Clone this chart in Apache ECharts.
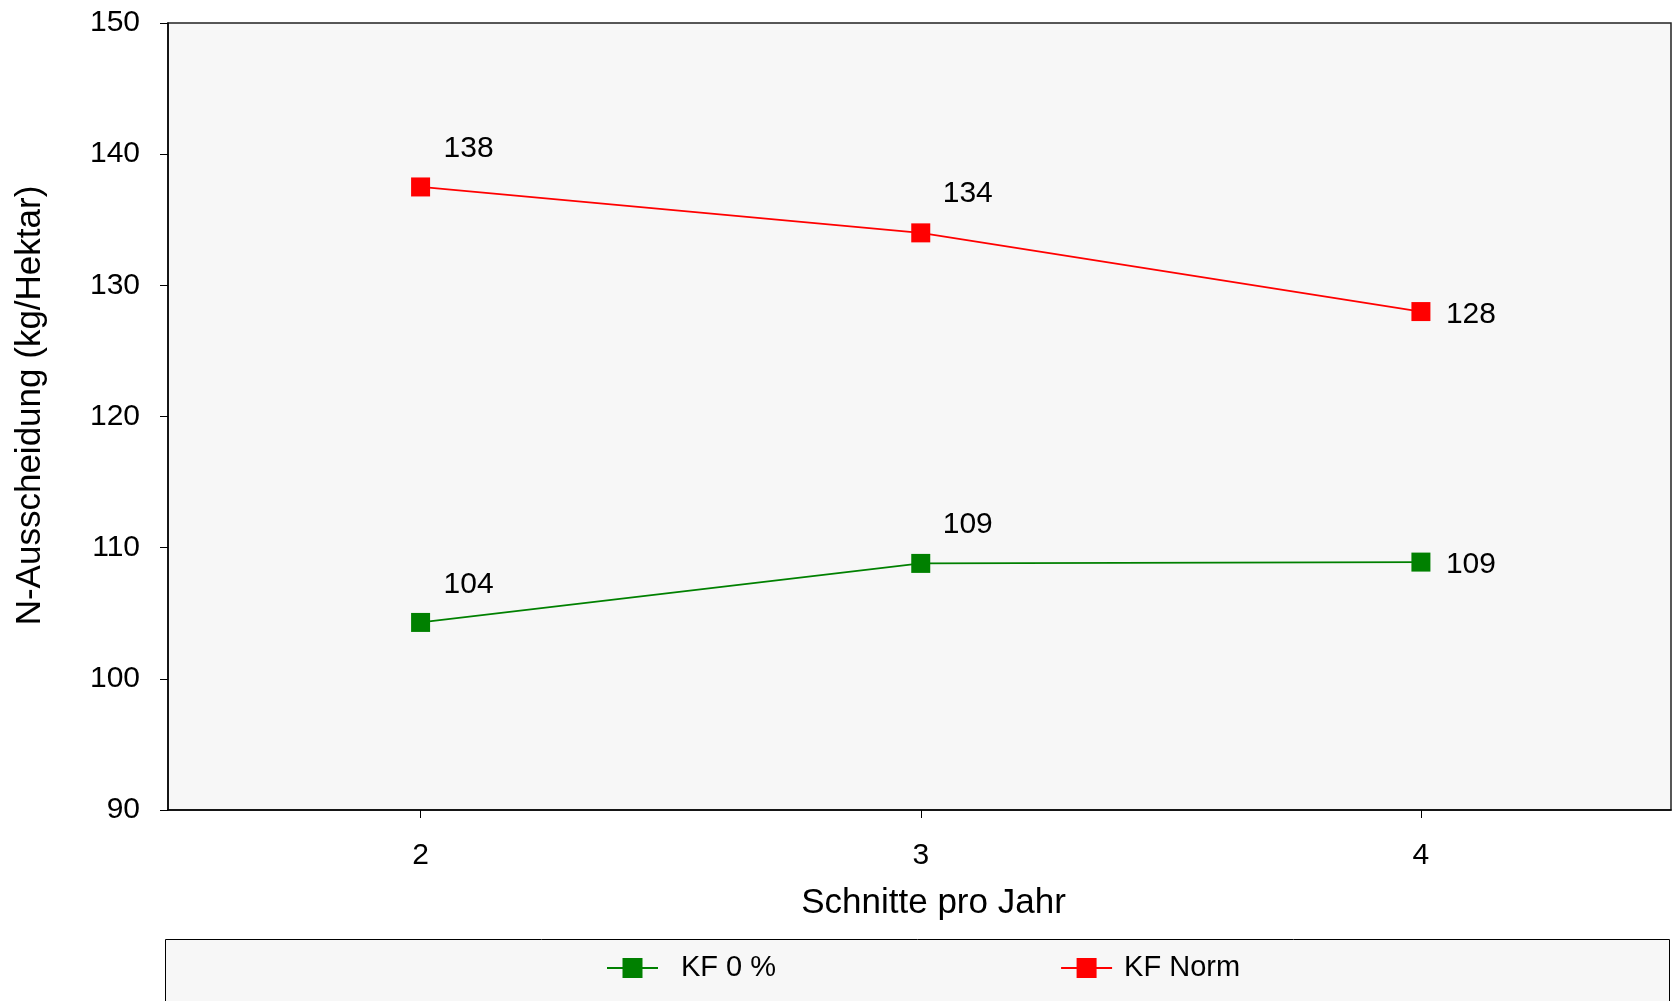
<!DOCTYPE html>
<html>
<head>
<meta charset="utf-8">
<script src="https://cdn.jsdelivr.net/npm/echarts@6/dist/echarts.min.js"></script>
<style>
html,body{margin:0;padding:0;background:#fff;}
#c{width:1672px;height:1001px;}
</style>
</head>
<body>
<div id="c"></div>
<script>
const categories = [2, 3, 4];
const kf0 = [104.3, 108.8, 108.9];
const kfNorm = [137.5, 134.0, 128.0];
const kf0Labels = ['104', '109', '109'];
const kfNormLabels = ['138', '134', '128'];
const yTicks = { min: 90, max: 150, interval: 10 };

const FONT = 'Liberation Sans, Arial, sans-serif';
const labelOffsets = [[48, -38], [47, -39], [50, 3]];

function build(values, labels, color, name) {
  return {
    name: name,
    type: 'line',
    data: values.map((v, i) => ({
      value: [categories[i], v],
      label: { show: true, position: 'inside', offset: labelOffsets[i], formatter: labels[i] }
    })),
    symbol: 'rect',
    symbolSize: 19,
    itemStyle: { color: color },
    lineStyle: { color: color, width: 1.8 },
    label: { color: '#000', fontSize: 30, fontFamily: FONT },
    emphasis: { disabled: true },
    animation: false
  };
}

const chart = echarts.init(document.getElementById('c'));
chart.setOption({
  animation: false,
  backgroundColor: '#fff',
  textStyle: { fontFamily: FONT },
  grid: {
    left: 168, top: 23, right: 1, bottom: 191,
    show: true, backgroundColor: '#f7f7f7', borderColor: '#222', borderWidth: 1.5
  },
  graphic: [{
    type: 'rect', z: -1,
    shape: { x: 165.5, y: 939.5, width: 1504, height: 80 },
    style: { fill: '#f7f7f7', stroke: '#000', lineWidth: 1 }
  }],
  legend: {
    left: 606, top: 953, padding: 0,
    itemWidth: 51, itemHeight: 25, itemGap: 284,
    textStyle: { fontSize: 29, fontFamily: FONT, color: '#000', lineHeight: 30 },
    data: [
      { name: 'KF 0 %', textStyle: { padding: [0, 0, 0, 18] } },
      { name: 'KF Norm', textStyle: { padding: [0, 0, 0, 7] } }
    ]
  },
  xAxis: {
    type: 'value',
    min: 1.495, max: 4.5,
    name: 'Schnitte pro Jahr',
    nameLocation: 'middle',
    nameGap: 76,
    nameTextStyle: { fontSize: 35, fontFamily: FONT, color: '#000', padding: [0, 0, 0, 28] },
    axisLine: { lineStyle: { color: '#000', width: 1.5 } },
    axisTick: { show: true, length: 8, lineStyle: { color: '#000' }, customValues: categories },
    axisLabel: { fontSize: 30, fontFamily: FONT, color: '#000', margin: 31, customValues: categories },
    splitLine: { show: false }
  },
  yAxis: {
    type: 'value',
    min: yTicks.min, max: yTicks.max, interval: yTicks.interval,
    name: 'N-Ausscheidung (kg/Hektar)',
    nameLocation: 'middle',
    nameGap: 120,
    nameTextStyle: { fontSize: 35, fontFamily: FONT, color: '#000', padding: [0, 0, 0, 22] },
    axisLine: { show: true, lineStyle: { color: '#000', width: 1.5 } },
    axisTick: { show: true, length: 8, lineStyle: { color: '#000' } },
    axisLabel: { fontSize: 30, fontFamily: FONT, color: '#000', margin: 28 },
    splitLine: { show: false }
  },
  series: [
    build(kf0, kf0Labels, '#008000', 'KF 0 %'),
    build(kfNorm, kfNormLabels, '#ff0000', 'KF Norm')
  ]
});
</script>
</body>
</html>
